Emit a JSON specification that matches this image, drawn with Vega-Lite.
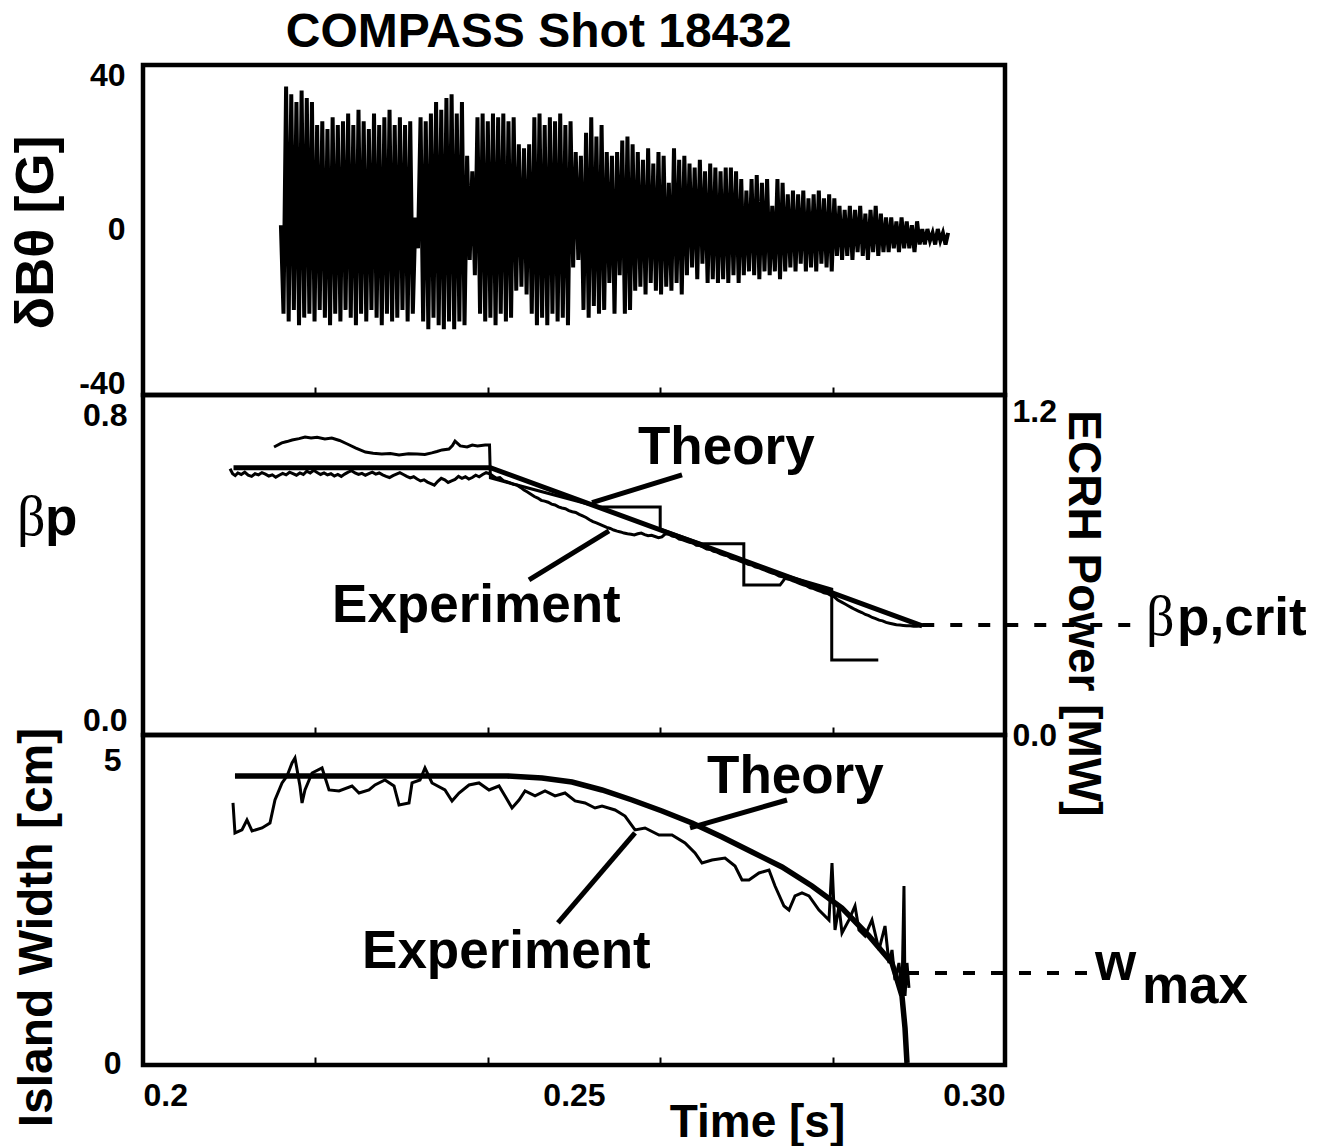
{
"$schema": "https://vega.github.io/schema/vega-lite/v6.json",
"background": "white",
"padding": {"left": 6, "top": 8, "right": 10, "bottom": 4},
"title": {"text": "COMPASS Shot 18432", "fontSize": 48, "font": "Liberation Sans", "fontWeight": "bold", "color": "black", "anchor": "start", "dx": 279, "offset": 0},
"bounds": "flush",
"spacing": 0,
"config": {
  "view": {"stroke": "black", "strokeWidth": 4.5},
  "font": "Liberation Sans",
  "axis": {"domain": false, "grid": false, "labelColor": "black", "titleColor": "black", "tickColor": "black", "labelFont": "Liberation Sans", "titleFont": "Liberation Sans", "labelFontWeight": "bold", "titleFontWeight": "bold", "labelFontSize": 32, "titleFontSize": 48},
  "text": {"font": "Liberation Sans", "fontWeight": "bold", "color": "black"}
},
"datasets": {
"sig": [
{"t":0.216,"v":1},{"t":0.2163,"v":-22},{"t":0.2166,"v":37},{"t":0.2169,"v":-24},{"t":0.2172,"v":35},{"t":0.2175,"v":-21},{"t":0.2178,"v":33},{"t":0.2181,"v":-25},{"t":0.2184,"v":36},{"t":0.2187,"v":-23},
{"t":0.219,"v":34},{"t":0.2193,"v":-22},{"t":0.2196,"v":33},{"t":0.2199,"v":-24},{"t":0.2202,"v":27},{"t":0.2205,"v":-21},{"t":0.2208,"v":28},{"t":0.2211,"v":-23},{"t":0.2214,"v":26},{"t":0.2217,"v":-25},
{"t":0.222,"v":29},{"t":0.2223,"v":-22},{"t":0.2226,"v":27},{"t":0.2229,"v":-24},{"t":0.2232,"v":28},{"t":0.2235,"v":-21},{"t":0.2238,"v":30},{"t":0.2241,"v":-23},{"t":0.2244,"v":27},{"t":0.2247,"v":-25},
{"t":0.225,"v":31},{"t":0.2253,"v":-22},{"t":0.2256,"v":28},{"t":0.2259,"v":-24},{"t":0.2262,"v":26},{"t":0.2265,"v":-21},{"t":0.2268,"v":30},{"t":0.2271,"v":-23},{"t":0.2274,"v":27},{"t":0.2277,"v":-25},
{"t":0.228,"v":29},{"t":0.2283,"v":-22},{"t":0.2286,"v":31},{"t":0.2289,"v":-24},{"t":0.2292,"v":27},{"t":0.2295,"v":-23},{"t":0.2298,"v":29},{"t":0.2301,"v":-21},{"t":0.2304,"v":27},{"t":0.2307,"v":-24},
{"t":0.231,"v":28},{"t":0.2313,"v":-22},{"t":0.2316,"v":3},{"t":0.2319,"v":-5},{"t":0.2322,"v":29},{"t":0.2325,"v":-24},{"t":0.2328,"v":28},{"t":0.2331,"v":-26},{"t":0.2334,"v":30},{"t":0.2337,"v":-23},
{"t":0.234,"v":33},{"t":0.2343,"v":-25},{"t":0.2346,"v":31},{"t":0.2349,"v":-26},{"t":0.2352,"v":34},{"t":0.2355,"v":-24},{"t":0.2358,"v":35},{"t":0.2361,"v":-26},{"t":0.2364,"v":30},{"t":0.2367,"v":-24},
{"t":0.237,"v":33},{"t":0.2373,"v":-25},{"t":0.2376,"v":19},{"t":0.2379,"v":-8},{"t":0.2382,"v":15},{"t":0.2385,"v":-12},{"t":0.2388,"v":29},{"t":0.2391,"v":-22},{"t":0.2394,"v":30},{"t":0.2397,"v":-24},
{"t":0.24,"v":28},{"t":0.2403,"v":-23},{"t":0.2406,"v":30},{"t":0.2409,"v":-25},{"t":0.2412,"v":29},{"t":0.2415,"v":-22},{"t":0.2418,"v":30},{"t":0.2421,"v":-24},{"t":0.2424,"v":28},{"t":0.2427,"v":-23},
{"t":0.243,"v":29},{"t":0.2433,"v":-16},{"t":0.2436,"v":22},{"t":0.2439,"v":-15},{"t":0.2442,"v":21},{"t":0.2445,"v":-17},{"t":0.2448,"v":22},{"t":0.2451,"v":-22},{"t":0.2454,"v":29},{"t":0.2457,"v":-25},
{"t":0.246,"v":30},{"t":0.2463,"v":-23},{"t":0.2466,"v":27},{"t":0.2469,"v":-25},{"t":0.2472,"v":29},{"t":0.2475,"v":-22},{"t":0.2478,"v":28},{"t":0.2481,"v":-24},{"t":0.2484,"v":30},{"t":0.2487,"v":-23},
{"t":0.249,"v":27},{"t":0.2493,"v":-25},{"t":0.2496,"v":28},{"t":0.2499,"v":-10},{"t":0.2502,"v":20},{"t":0.2505,"v":-8},{"t":0.2508,"v":19},{"t":0.2511,"v":-21},{"t":0.2514,"v":25},{"t":0.2517,"v":-23},
{"t":0.252,"v":29},{"t":0.2523,"v":-20},{"t":0.2526,"v":24},{"t":0.2529,"v":-22},{"t":0.2532,"v":27},{"t":0.2535,"v":-21},{"t":0.2538,"v":20},{"t":0.2541,"v":-14},{"t":0.2544,"v":19},{"t":0.2547,"v":-22},
{"t":0.255,"v":20},{"t":0.2553,"v":-12},{"t":0.2556,"v":23},{"t":0.2559,"v":-22},{"t":0.2562,"v":24},{"t":0.2565,"v":-21},{"t":0.2568,"v":22},{"t":0.2571,"v":-16},{"t":0.2574,"v":20},{"t":0.2577,"v":-15},
{"t":0.258,"v":18},{"t":0.2583,"v":-17},{"t":0.2586,"v":21},{"t":0.2589,"v":-14},{"t":0.2592,"v":17},{"t":0.2595,"v":-16},{"t":0.2598,"v":20},{"t":0.2601,"v":-17},{"t":0.2604,"v":19},{"t":0.2607,"v":-15},
{"t":0.261,"v":12},{"t":0.2613,"v":-16},{"t":0.2616,"v":21},{"t":0.2619,"v":-14},{"t":0.2622,"v":18},{"t":0.2625,"v":-17},{"t":0.2628,"v":19},{"t":0.2631,"v":-12},{"t":0.2634,"v":17},{"t":0.2637,"v":-10},
{"t":0.264,"v":16},{"t":0.2643,"v":-13},{"t":0.2646,"v":18},{"t":0.2649,"v":-9},{"t":0.2652,"v":15},{"t":0.2655,"v":-14},{"t":0.2658,"v":17},{"t":0.2661,"v":-13},{"t":0.2664,"v":16},{"t":0.2667,"v":-14},
{"t":0.267,"v":15},{"t":0.2673,"v":-13},{"t":0.2676,"v":16},{"t":0.2679,"v":-14},{"t":0.2682,"v":16},{"t":0.2685,"v":-12},{"t":0.2688,"v":15},{"t":0.2691,"v":-14},{"t":0.2694,"v":13},{"t":0.2697,"v":-12},
{"t":0.27,"v":10},{"t":0.2703,"v":-11},{"t":0.2706,"v":13},{"t":0.2709,"v":-12},{"t":0.2712,"v":14},{"t":0.2715,"v":-13},{"t":0.2718,"v":12},{"t":0.2721,"v":-11},{"t":0.2724,"v":13},{"t":0.2727,"v":-12},
{"t":0.273,"v":6},{"t":0.2733,"v":-11},{"t":0.2736,"v":13},{"t":0.2739,"v":-13},{"t":0.2742,"v":12},{"t":0.2745,"v":-11},{"t":0.2748,"v":9},{"t":0.2751,"v":-10},{"t":0.2754,"v":10},{"t":0.2757,"v":-11},
{"t":0.276,"v":9},{"t":0.2763,"v":-9},{"t":0.2766,"v":10},{"t":0.2769,"v":-11},{"t":0.2772,"v":8},{"t":0.2775,"v":-10},{"t":0.2778,"v":9},{"t":0.2781,"v":-11},{"t":0.2784,"v":10},{"t":0.2787,"v":-9},
{"t":0.279,"v":8},{"t":0.2793,"v":-10},{"t":0.2796,"v":9},{"t":0.2799,"v":-11},{"t":0.2802,"v":8},{"t":0.2805,"v":-7},{"t":0.2808,"v":6},{"t":0.2811,"v":-8},{"t":0.2814,"v":5},{"t":0.2817,"v":-7},
{"t":0.282,"v":6},{"t":0.2823,"v":-8},{"t":0.2826,"v":5},{"t":0.2829,"v":-6},{"t":0.2832,"v":6},{"t":0.2835,"v":-7},{"t":0.2838,"v":4},{"t":0.2841,"v":-8},{"t":0.2844,"v":5},{"t":0.2847,"v":-6},
{"t":0.285,"v":6},{"t":0.2853,"v":-7},{"t":0.2856,"v":4},{"t":0.2859,"v":-6},{"t":0.2862,"v":3},{"t":0.2865,"v":-6},{"t":0.2868,"v":3},{"t":0.2871,"v":-5},{"t":0.2874,"v":2},{"t":0.2877,"v":-6},
{"t":0.288,"v":3},{"t":0.2883,"v":-5},{"t":0.2886,"v":2},{"t":0.2889,"v":-5},{"t":0.2892,"v":1},{"t":0.2895,"v":-6},{"t":0.2898,"v":2},{"t":0.2901,"v":-4},{"t":0.2904,"v":0},{"t":0.2907,"v":-4},
{"t":0.291,"v":0},{"t":0.2913,"v":-3},{"t":0.2916,"v":-1},{"t":0.2919,"v":-4},{"t":0.2922,"v":0},{"t":0.2925,"v":-3},{"t":0.2928,"v":-1},{"t":0.2931,"v":-4},{"t":0.2934,"v":-1}
],
"bp": [
{"s":"theory","t":0.2105,"v":0.664},{"s":"theory","t":0.2403,"v":0.664},{"s":"theory","t":0.2904,"v":0.248},
{"s":"experiment","t":0.2101,"v":0.661},{"s":"experiment","t":0.2104,"v":0.648},{"s":"experiment","t":0.2107,"v":0.643},{"s":"experiment","t":0.211,"v":0.65},{"s":"experiment","t":0.2114,"v":0.646},{"s":"experiment","t":0.2118,"v":0.652},{"s":"experiment","t":0.2122,"v":0.644},{"s":"experiment","t":0.2126,"v":0.641},{"s":"experiment","t":0.213,"v":0.648},{"s":"experiment","t":0.2134,"v":0.645},
{"s":"experiment","t":0.2138,"v":0.651},{"s":"experiment","t":0.2142,"v":0.647},{"s":"experiment","t":0.2146,"v":0.642},{"s":"experiment","t":0.215,"v":0.645},{"s":"experiment","t":0.2154,"v":0.639},{"s":"experiment","t":0.2158,"v":0.644},{"s":"experiment","t":0.2162,"v":0.649},{"s":"experiment","t":0.2166,"v":0.645},{"s":"experiment","t":0.217,"v":0.652},{"s":"experiment","t":0.2174,"v":0.648},
{"s":"experiment","t":0.2178,"v":0.644},{"s":"experiment","t":0.2182,"v":0.65},{"s":"experiment","t":0.2186,"v":0.646},{"s":"experiment","t":0.219,"v":0.655},{"s":"experiment","t":0.2194,"v":0.65},{"s":"experiment","t":0.2198,"v":0.657},{"s":"experiment","t":0.2202,"v":0.651},{"s":"experiment","t":0.2206,"v":0.646},{"s":"experiment","t":0.221,"v":0.65},{"s":"experiment","t":0.2214,"v":0.645},
{"s":"experiment","t":0.2218,"v":0.648},{"s":"experiment","t":0.2222,"v":0.642},{"s":"experiment","t":0.2226,"v":0.646},{"s":"experiment","t":0.223,"v":0.641},{"s":"experiment","t":0.2234,"v":0.647},{"s":"experiment","t":0.2238,"v":0.652},{"s":"experiment","t":0.2242,"v":0.656},{"s":"experiment","t":0.2246,"v":0.65},{"s":"experiment","t":0.225,"v":0.646},{"s":"experiment","t":0.2254,"v":0.649},
{"s":"experiment","t":0.2258,"v":0.644},{"s":"experiment","t":0.2262,"v":0.648},{"s":"experiment","t":0.2266,"v":0.652},{"s":"experiment","t":0.227,"v":0.647},{"s":"experiment","t":0.2274,"v":0.65},{"s":"experiment","t":0.2278,"v":0.645},{"s":"experiment","t":0.2282,"v":0.641},{"s":"experiment","t":0.2286,"v":0.638},{"s":"experiment","t":0.229,"v":0.643},{"s":"experiment","t":0.2294,"v":0.647},
{"s":"experiment","t":0.2298,"v":0.651},{"s":"experiment","t":0.2302,"v":0.646},{"s":"experiment","t":0.2306,"v":0.641},{"s":"experiment","t":0.231,"v":0.637},{"s":"experiment","t":0.2314,"v":0.64},{"s":"experiment","t":0.2318,"v":0.634},{"s":"experiment","t":0.2322,"v":0.629},{"s":"experiment","t":0.2326,"v":0.632},{"s":"experiment","t":0.233,"v":0.626},{"s":"experiment","t":0.2334,"v":0.622},
{"s":"experiment","t":0.2338,"v":0.618},{"s":"experiment","t":0.2342,"v":0.628},{"s":"experiment","t":0.2346,"v":0.636},{"s":"experiment","t":0.235,"v":0.632},{"s":"experiment","t":0.2354,"v":0.625},{"s":"experiment","t":0.2358,"v":0.629},{"s":"experiment","t":0.2362,"v":0.633},{"s":"experiment","t":0.2366,"v":0.641},{"s":"experiment","t":0.237,"v":0.636},{"s":"experiment","t":0.2374,"v":0.64},
{"s":"experiment","t":0.2378,"v":0.634},{"s":"experiment","t":0.2382,"v":0.638},{"s":"experiment","t":0.2386,"v":0.644},{"s":"experiment","t":0.239,"v":0.64},{"s":"experiment","t":0.2394,"v":0.646},{"s":"experiment","t":0.2398,"v":0.651},{"s":"experiment","t":0.2402,"v":0.648},{"s":"experiment","t":0.2406,"v":0.642},{"s":"experiment","t":0.241,"v":0.636},{"s":"experiment","t":0.2414,"v":0.638},
{"s":"experiment","t":0.2418,"v":0.63},{"s":"experiment","t":0.2422,"v":0.627},{"s":"experiment","t":0.2426,"v":0.624},{"s":"experiment","t":0.243,"v":0.62},{"s":"experiment","t":0.2434,"v":0.618},{"s":"experiment","t":0.2438,"v":0.612},{"s":"experiment","t":0.2442,"v":0.605},{"s":"experiment","t":0.2446,"v":0.6},{"s":"experiment","t":0.245,"v":0.594},{"s":"experiment","t":0.2454,"v":0.588},
{"s":"experiment","t":0.2458,"v":0.584},{"s":"experiment","t":0.2462,"v":0.578},{"s":"experiment","t":0.2466,"v":0.576},{"s":"experiment","t":0.247,"v":0.573},{"s":"experiment","t":0.2474,"v":0.568},{"s":"experiment","t":0.2478,"v":0.566},{"s":"experiment","t":0.2482,"v":0.561},{"s":"experiment","t":0.2486,"v":0.558},{"s":"experiment","t":0.249,"v":0.556},{"s":"experiment","t":0.2494,"v":0.551},
{"s":"experiment","t":0.2498,"v":0.548},{"s":"experiment","t":0.2502,"v":0.546},{"s":"experiment","t":0.2506,"v":0.541},{"s":"experiment","t":0.251,"v":0.537},{"s":"experiment","t":0.2514,"v":0.533},{"s":"experiment","t":0.2518,"v":0.527},{"s":"experiment","t":0.2522,"v":0.522},{"s":"experiment","t":0.2526,"v":0.519},{"s":"experiment","t":0.253,"v":0.515},{"s":"experiment","t":0.2534,"v":0.511},
{"s":"experiment","t":0.2538,"v":0.507},{"s":"experiment","t":0.2542,"v":0.504},{"s":"experiment","t":0.2546,"v":0.5},{"s":"experiment","t":0.255,"v":0.497},{"s":"experiment","t":0.2554,"v":0.495},{"s":"experiment","t":0.2558,"v":0.492},{"s":"experiment","t":0.2562,"v":0.49},{"s":"experiment","t":0.2566,"v":0.489},{"s":"experiment","t":0.257,"v":0.487},{"s":"experiment","t":0.2574,"v":0.49},
{"s":"experiment","t":0.2578,"v":0.492},{"s":"experiment","t":0.2582,"v":0.488},{"s":"experiment","t":0.2586,"v":0.485},{"s":"experiment","t":0.259,"v":0.486},{"s":"experiment","t":0.2594,"v":0.483},{"s":"experiment","t":0.2598,"v":0.48},{"s":"experiment","t":0.2602,"v":0.482},{"s":"experiment","t":0.2606,"v":0.49},{"s":"experiment","t":0.261,"v":0.489},{"s":"experiment","t":0.2614,"v":0.484},
{"s":"experiment","t":0.2618,"v":0.482},{"s":"experiment","t":0.2622,"v":0.476},{"s":"experiment","t":0.2626,"v":0.474},{"s":"experiment","t":0.263,"v":0.471},{"s":"experiment","t":0.2634,"v":0.468},{"s":"experiment","t":0.2638,"v":0.466},{"s":"experiment","t":0.2642,"v":0.46},{"s":"experiment","t":0.2646,"v":0.459},{"s":"experiment","t":0.265,"v":0.455},{"s":"experiment","t":0.2654,"v":0.45},
{"s":"experiment","t":0.2658,"v":0.449},{"s":"experiment","t":0.2662,"v":0.444},{"s":"experiment","t":0.2666,"v":0.442},{"s":"experiment","t":0.267,"v":0.437},{"s":"experiment","t":0.2674,"v":0.434},{"s":"experiment","t":0.2678,"v":0.432},{"s":"experiment","t":0.2682,"v":0.426},{"s":"experiment","t":0.2686,"v":0.424},{"s":"experiment","t":0.269,"v":0.421},{"s":"experiment","t":0.2694,"v":0.417},
{"s":"experiment","t":0.2698,"v":0.414},{"s":"experiment","t":0.2702,"v":0.41},{"s":"experiment","t":0.2706,"v":0.408},{"s":"experiment","t":0.271,"v":0.403},{"s":"experiment","t":0.2714,"v":0.401},{"s":"experiment","t":0.2718,"v":0.397},{"s":"experiment","t":0.2722,"v":0.394},{"s":"experiment","t":0.2726,"v":0.39},{"s":"experiment","t":0.273,"v":0.387},{"s":"experiment","t":0.2734,"v":0.384},
{"s":"experiment","t":0.2738,"v":0.379},{"s":"experiment","t":0.2742,"v":0.377},{"s":"experiment","t":0.2746,"v":0.372},{"s":"experiment","t":0.275,"v":0.37},{"s":"experiment","t":0.2754,"v":0.366},{"s":"experiment","t":0.2758,"v":0.363},{"s":"experiment","t":0.2762,"v":0.359},{"s":"experiment","t":0.2766,"v":0.356},{"s":"experiment","t":0.277,"v":0.353},{"s":"experiment","t":0.2774,"v":0.348},
{"s":"experiment","t":0.2778,"v":0.346},{"s":"experiment","t":0.2782,"v":0.342},{"s":"experiment","t":0.2786,"v":0.339},{"s":"experiment","t":0.279,"v":0.335},{"s":"experiment","t":0.2794,"v":0.333},{"s":"experiment","t":0.2798,"v":0.328},{"s":"experiment","t":0.2802,"v":0.324},{"s":"experiment","t":0.2806,"v":0.316},{"s":"experiment","t":0.281,"v":0.311},{"s":"experiment","t":0.2814,"v":0.306},
{"s":"experiment","t":0.2818,"v":0.301},{"s":"experiment","t":0.2822,"v":0.296},{"s":"experiment","t":0.2826,"v":0.291},{"s":"experiment","t":0.283,"v":0.287},{"s":"experiment","t":0.2834,"v":0.283},{"s":"experiment","t":0.2838,"v":0.278},{"s":"experiment","t":0.2842,"v":0.275},{"s":"experiment","t":0.2846,"v":0.27},{"s":"experiment","t":0.285,"v":0.267},{"s":"experiment","t":0.2854,"v":0.263},
{"s":"experiment","t":0.2858,"v":0.261},{"s":"experiment","t":0.2862,"v":0.257},{"s":"experiment","t":0.2866,"v":0.255},{"s":"experiment","t":0.287,"v":0.253},{"s":"experiment","t":0.2874,"v":0.251},{"s":"experiment","t":0.2878,"v":0.25},{"s":"experiment","t":0.2882,"v":0.249},{"s":"experiment","t":0.2886,"v":0.248},{"s":"experiment","t":0.289,"v":0.248},{"s":"experiment","t":0.2894,"v":0.247},
{"s":"experiment","t":0.2898,"v":0.247},{"s":"experiment","t":0.2902,"v":0.248},{"s":"experiment","t":0.2906,"v":0.25}
],
"ecrh": [
{"i":0,"t":0.2152,"p":1.07},{"i":1,"t":0.2161,"p":1.085},{"i":2,"t":0.2167,"p":1.09},{"i":3,"t":0.2173,"p":1.096},{"i":4,"t":0.2181,"p":1.101},{"i":5,"t":0.2188,"p":1.107},{"i":6,"t":0.2195,"p":1.103},{"i":7,"t":0.2202,"p":1.106},{"i":8,"t":0.2211,"p":1.1},{"i":9,"t":0.2219,"p":1.103},
{"i":10,"t":0.2228,"p":1.094},{"i":11,"t":0.2237,"p":1.081},{"i":12,"t":0.2247,"p":1.066},{"i":13,"t":0.2258,"p":1.051},{"i":14,"t":0.2267,"p":1.047},{"i":15,"t":0.2277,"p":1.044},{"i":16,"t":0.2287,"p":1.046},{"i":17,"t":0.2297,"p":1.04},{"i":18,"t":0.2308,"p":1.045},{"i":19,"t":0.2318,"p":1.044},
{"i":20,"t":0.2327,"p":1.042},{"i":21,"t":0.2335,"p":1.048},{"i":22,"t":0.2341,"p":1.053},{"i":23,"t":0.2347,"p":1.059},{"i":24,"t":0.2355,"p":1.062},{"i":25,"t":0.2359,"p":1.075},{"i":26,"t":0.2362,"p":1.092},{"i":27,"t":0.2368,"p":1.074},{"i":28,"t":0.2376,"p":1.07},{"i":29,"t":0.2382,"p":1.077},
{"i":30,"t":0.2388,"p":1.074},{"i":31,"t":0.2397,"p":1.077},{"i":32,"t":0.2402,"p":1.077},{"i":33,"t":0.2403,"p":0.955},{"i":34,"t":0.2529,"p":0.847},{"i":35,"t":0.26,"p":0.847},{"i":36,"t":0.26,"p":0.765},{"i":37,"t":0.2649,"p":0.71},{"i":38,"t":0.2697,"p":0.71},{"i":39,"t":0.2697,"p":0.557},
{"i":40,"t":0.2739,"p":0.557},{"i":41,"t":0.2747,"p":0.591},{"i":42,"t":0.2799,"p":0.542},{"i":43,"t":0.2799,"p":0.279},{"i":44,"t":0.2853,"p":0.279}
],
"w": [
{"s":"theory","t":0.21067,"v":4.752},{"s":"theory","t":0.24223,"v":4.752},{"s":"theory","t":0.24629,"v":4.719},{"s":"theory","t":0.24977,"v":4.652},{"s":"theory","t":0.25325,"v":4.52},{"s":"theory","t":0.25673,"v":4.354},{"s":"theory","t":0.26021,"v":4.172},{"s":"theory","t":0.26369,"v":3.974},{"s":"theory","t":0.26717,"v":3.742},
{"s":"theory","t":0.27065,"v":3.493},{"s":"theory","t":0.27413,"v":3.245},{"s":"theory","t":0.27761,"v":2.93},{"s":"theory","t":0.28109,"v":2.566},{"s":"theory","t":0.28422,"v":2.103},{"s":"theory","t":0.28689,"v":1.656},{"s":"theory","t":0.28805,"v":1.109},{"s":"theory","t":0.2884,"v":0.579},{"s":"theory","t":0.28863,"v":0},
{"s":"experiment","t":0.21044,"v":4.305},{"s":"experiment","t":0.21067,"v":3.808},{"s":"experiment","t":0.21148,"v":3.858},{"s":"experiment","t":0.21206,"v":4.023},{"s":"experiment","t":0.21265,"v":3.841},{"s":"experiment","t":0.21381,"v":3.891},{"s":"experiment","t":0.21473,"v":3.974},{"s":"experiment","t":0.21531,"v":4.354},{"s":"experiment","t":0.21613,"v":4.636},{"s":"experiment","t":0.21671,"v":4.752},
{"s":"experiment","t":0.21729,"v":4.967},{"s":"experiment","t":0.21763,"v":5.05},{"s":"experiment","t":0.21821,"v":4.586},{"s":"experiment","t":0.21845,"v":4.305},{"s":"experiment","t":0.21879,"v":4.52},{"s":"experiment","t":0.21961,"v":4.801},{"s":"experiment","t":0.22077,"v":4.884},{"s":"experiment","t":0.22158,"v":4.52},{"s":"experiment","t":0.22274,"v":4.503},{"s":"experiment","t":0.22425,"v":4.586},
{"s":"experiment","t":0.22506,"v":4.47},{"s":"experiment","t":0.22622,"v":4.52},{"s":"experiment","t":0.22691,"v":4.603},{"s":"experiment","t":0.22807,"v":4.685},{"s":"experiment","t":0.22912,"v":4.586},{"s":"experiment","t":0.2297,"v":4.272},{"s":"experiment","t":0.23086,"v":4.305},{"s":"experiment","t":0.23121,"v":4.636},{"s":"experiment","t":0.23213,"v":4.685},{"s":"experiment","t":0.23271,"v":4.884},
{"s":"experiment","t":0.23353,"v":4.636},{"s":"experiment","t":0.23503,"v":4.52},{"s":"experiment","t":0.23585,"v":4.338},{"s":"experiment","t":0.23666,"v":4.47},{"s":"experiment","t":0.23782,"v":4.603},{"s":"experiment","t":0.23898,"v":4.636},{"s":"experiment","t":0.24014,"v":4.52},{"s":"experiment","t":0.2413,"v":4.586},{"s":"experiment","t":0.242,"v":4.421},{"s":"experiment","t":0.24281,"v":4.222},
{"s":"experiment","t":0.24362,"v":4.354},{"s":"experiment","t":0.24432,"v":4.503},{"s":"experiment","t":0.24548,"v":4.421},{"s":"experiment","t":0.24664,"v":4.503},{"s":"experiment","t":0.2478,"v":4.421},{"s":"experiment","t":0.24896,"v":4.47},{"s":"experiment","t":0.25012,"v":4.338},{"s":"experiment","t":0.25128,"v":4.305},{"s":"experiment","t":0.25244,"v":4.222},{"s":"experiment","t":0.25325,"v":4.255},
{"s":"experiment","t":0.25476,"v":4.189},{"s":"experiment","t":0.25592,"v":4.089},{"s":"experiment","t":0.25708,"v":3.858},{"s":"experiment","t":0.25824,"v":3.891},{"s":"experiment","t":0.25986,"v":3.775},{"s":"experiment","t":0.26137,"v":3.775},{"s":"experiment","t":0.26288,"v":3.642},{"s":"experiment","t":0.26404,"v":3.477},{"s":"experiment","t":0.26485,"v":3.311},{"s":"experiment","t":0.26601,"v":3.361},
{"s":"experiment","t":0.26752,"v":3.394},{"s":"experiment","t":0.26868,"v":3.262},{"s":"experiment","t":0.26949,"v":3.03},{"s":"experiment","t":0.2703,"v":3.03},{"s":"experiment","t":0.27146,"v":3.146},{"s":"experiment","t":0.27262,"v":3.195},{"s":"experiment","t":0.27332,"v":2.93},{"s":"experiment","t":0.27436,"v":2.599},{"s":"experiment","t":0.27494,"v":2.533},{"s":"experiment","t":0.27564,"v":2.765},
{"s":"experiment","t":0.27645,"v":2.815},{"s":"experiment","t":0.27726,"v":2.765},{"s":"experiment","t":0.27842,"v":2.533},{"s":"experiment","t":0.27958,"v":2.368},{"s":"experiment","t":0.27993,"v":3.311},{"s":"experiment","t":0.28028,"v":2.202},{"s":"experiment","t":0.28074,"v":2.599},{"s":"experiment","t":0.28109,"v":2.152},{"s":"experiment","t":0.2819,"v":2.368},{"s":"experiment","t":0.2826,"v":2.599},
{"s":"experiment","t":0.28306,"v":2.202},{"s":"experiment","t":0.28376,"v":2.103},{"s":"experiment","t":0.28457,"v":2.368},{"s":"experiment","t":0.28538,"v":1.871},{"s":"experiment","t":0.28608,"v":2.268},{"s":"experiment","t":0.28654,"v":1.656},{"s":"experiment","t":0.28689,"v":1.871},{"s":"experiment","t":0.28724,"v":1.374},{"s":"experiment","t":0.2877,"v":1.656},{"s":"experiment","t":0.28805,"v":1.159},
{"s":"experiment","t":0.28828,"v":2.93},{"s":"experiment","t":0.2884,"v":1.109},{"s":"experiment","t":0.28863,"v":1.656},{"s":"experiment","t":0.28886,"v":1.242}
],
"ptr": [
{"panel":"mid","t":0.26253,"v":0.645,"t2":0.25209,"v2":0.572},
{"panel":"mid","t":0.25406,"v":0.498,"t2":0.24478,"v2":0.369},
{"panel":"bot","t":0.27471,"v":4.354,"t2":0.26346,"v2":3.891},
{"panel":"bot","t":0.25708,"v":3.808,"t2":0.24814,"v2":2.318}
],
"dash": [
{"panel":"mid","t":0.2904,"t2":0.3159,"v":0.2505},
{"panel":"bot","t":0.28863,"t2":0.30974,"v":1.49}
],
"txt": [
{"panel":"mid","label":"Theory","t":0.25742,"v":0.674},
{"panel":"mid","label":"Experiment","t":0.22193,"v":0.258},
{"panel":"mid","label":"β","t":0.18538,"v":0.487},
{"panel":"mid","label":"p","t":0.18863,"v":0.487},
{"panel":"mid","label":"β","t":0.31636,"v":0.224},
{"panel":"mid","label":"p,crit","t":0.31996,"v":0.224},
{"panel":"bot","label":"Theory","t":0.26543,"v":4.47},
{"panel":"bot","label":"Experiment","t":0.22541,"v":1.573},
{"panel":"bot","label":"w","t":0.31044,"v":1.374},
{"panel":"bot","label":"max","t":0.31589,"v":0.993}
]
},
"vconcat": [
{
  "width": 862, "height": 330,
  "data": {"name": "sig"},
  "mark": {"type": "line", "color": "black", "strokeWidth": 4},
  "encoding": {
    "x": {"field": "t", "type": "quantitative", "scale": {"domain": [0.2, 0.3], "nice": false, "zero": false},
      "axis": {"values": [0.22, 0.24, 0.26, 0.28], "labels": false, "tickSize": -8, "tickWidth": 2, "title": null}},
    "y": {"field": "v", "type": "quantitative", "scale": {"domain": [-43.1, 42.6], "nice": false, "zero": false},
      "axis": {"values": [-40, 0, 40], "labelExpr": "datum.value < 0 ? '-40' : datum.label", "ticks": false, "labelPadding": 18, "title": "δBθ [G]", "titleFontSize": 54, "titleX": -107, "titleY": 167, "titleAngle": -90, "titleAlign": "center", "titleBaseline": "middle"}}
  }
},
{
  "width": 862, "height": 340,
  "layer": [
    {
      "layer": [
        {
          "data": {"name": "bp"},
          "transform": [{"filter": "datum.s == 'experiment'"}],
          "mark": {"type": "line", "color": "black", "strokeWidth": 3},
          "encoding": {
            "x": {"field": "t", "type": "quantitative", "scale": {"domain": [0.2, 0.3], "nice": false, "zero": false},
              "axis": {"values": [0.22, 0.24, 0.26, 0.28], "labels": false, "tickSize": -8, "tickWidth": 2, "title": null}},
            "y": {"field": "v", "type": "quantitative", "scale": {"domain": [-0.039, 0.855], "nice": false, "zero": false},
              "axis": {"values": [0, 0.8], "format": ".1f", "ticks": false, "labelPadding": 16, "title": null}}
          }
        },
        {
          "data": {"name": "bp"},
          "transform": [{"filter": "datum.s == 'theory'"}],
          "mark": {"type": "line", "color": "black", "strokeWidth": 5},
          "encoding": {
            "x": {"field": "t", "type": "quantitative"},
            "y": {"field": "v", "type": "quantitative"}
          }
        },
        {
          "data": {"name": "ptr"},
          "transform": [{"filter": "datum.panel == 'mid'"}],
          "mark": {"type": "rule", "color": "black", "strokeWidth": 5},
          "encoding": {
            "x": {"field": "t", "type": "quantitative"},
            "y": {"field": "v", "type": "quantitative"},
            "x2": {"field": "t2"},
            "y2": {"field": "v2"}
          }
        },
        {
          "data": {"name": "dash"},
          "transform": [{"filter": "datum.panel == 'mid'"}],
          "mark": {"type": "rule", "color": "black", "strokeWidth": 4, "strokeDash": [12, 16]},
          "encoding": {
            "x": {"field": "t", "type": "quantitative"},
            "x2": {"field": "t2"},
            "y": {"field": "v", "type": "quantitative"}
          }
        },
        {
          "data": {"name": "txt"},
          "transform": [{"filter": "datum.panel == 'mid' && datum.label != 'β'"}],
          "mark": {"type": "text", "align": "left", "baseline": "alphabetic", "fontSize": 53, "font": "Liberation Sans", "fontWeight": "bold", "color": "black"},
          "encoding": {
            "x": {"field": "t", "type": "quantitative"},
            "y": {"field": "v", "type": "quantitative"},
            "text": {"field": "label"}
          }
        },
        {
          "data": {"name": "txt"},
          "transform": [{"filter": "datum.panel == 'mid' && datum.label == 'β'"}],
          "mark": {"type": "text", "align": "left", "baseline": "alphabetic", "fontSize": 56, "font": "Liberation Serif", "fontWeight": "normal", "color": "black"},
          "encoding": {
            "x": {"field": "t", "type": "quantitative"},
            "y": {"field": "v", "type": "quantitative"},
            "text": {"field": "label"}
          }
        }
      ]
    },
    {
      "data": {"name": "ecrh"},
      "mark": {"type": "line", "color": "black", "strokeWidth": 3},
      "encoding": {
        "x": {"field": "t", "type": "quantitative"},
        "y": {"field": "p", "type": "quantitative", "scale": {"domain": [0, 1.263], "nice": false, "zero": false},
          "axis": {"orient": "right", "values": [0, 1.2], "format": ".1f", "ticks": false, "labelPadding": 7, "title": "ECRH Power [MW]", "titleFontSize": 46, "titleAngle": 90, "titleX": 77, "titleY": 218, "titleAlign": "center", "titleBaseline": "middle"}},
        "order": {"field": "i", "type": "quantitative"}
      }
    }
  ],
  "resolve": {"scale": {"y": "independent"}}
},
{
  "width": 862, "height": 330,
  "layer": [
    {
      "data": {"name": "w"},
      "transform": [{"filter": "datum.s == 'experiment'"}],
      "mark": {"type": "line", "color": "black", "strokeWidth": 3},
      "encoding": {
        "x": {"field": "t", "type": "quantitative", "scale": {"domain": [0.2, 0.3], "nice": false, "zero": false},
          "axis": {"values": [0.2, 0.22, 0.24, 0.25, 0.26, 0.28, 0.3], "labelExpr": "datum.value == 0.2 ? '0.2' : datum.value == 0.25 ? '0.25' : datum.value == 0.3 ? '0.30' : ''", "labelFlush": true, "labelFontSize": 32, "tickSize": -8, "tickWidth": 2, "tickOpacity": {"condition": {"test": "datum.value == 0.2 || datum.value == 0.25 || datum.value == 0.3", "value": 0}, "value": 1}, "labelPadding": 23, "title": "Time [s]", "titleFontSize": 46, "titleX": 614, "titleY": 71, "titleAlign": "center", "titleBaseline": "alphabetic"}},
        "y": {"field": "v", "type": "quantitative", "scale": {"domain": [-0.033, 5.43], "nice": false, "zero": false},
          "axis": {"values": [0, 5], "format": "d", "ticks": false, "labelPadding": 22, "title": "Island Width [cm]", "titleX": -106, "titleY": 192, "titleAngle": -90, "titleAlign": "center", "titleBaseline": "middle"}}
      }
    },
    {
      "data": {"name": "w"},
      "transform": [{"filter": "datum.s == 'theory'"}],
      "mark": {"type": "line", "color": "black", "strokeWidth": 5.5},
      "encoding": {
        "x": {"field": "t", "type": "quantitative"},
        "y": {"field": "v", "type": "quantitative"}
      }
    },
    {
      "data": {"name": "ptr"},
      "transform": [{"filter": "datum.panel == 'bot'"}],
      "mark": {"type": "rule", "color": "black", "strokeWidth": 5},
      "encoding": {
        "x": {"field": "t", "type": "quantitative"},
        "y": {"field": "v", "type": "quantitative"},
        "x2": {"field": "t2"},
        "y2": {"field": "v2"}
      }
    },
    {
      "data": {"name": "dash"},
      "transform": [{"filter": "datum.panel == 'bot'"}],
      "mark": {"type": "rule", "color": "black", "strokeWidth": 4, "strokeDash": [12, 16]},
      "encoding": {
        "x": {"field": "t", "type": "quantitative"},
        "x2": {"field": "t2"},
        "y": {"field": "v", "type": "quantitative"}
      }
    },
    {
      "data": {"name": "txt"},
      "transform": [{"filter": "datum.panel == 'bot'"}],
      "mark": {"type": "text", "align": "left", "baseline": "alphabetic", "fontSize": 53, "font": "Liberation Sans", "fontWeight": "bold", "color": "black"},
      "encoding": {
        "x": {"field": "t", "type": "quantitative"},
        "y": {"field": "v", "type": "quantitative"},
        "text": {"field": "label"}
      }
    }
  ]
}
]
}
